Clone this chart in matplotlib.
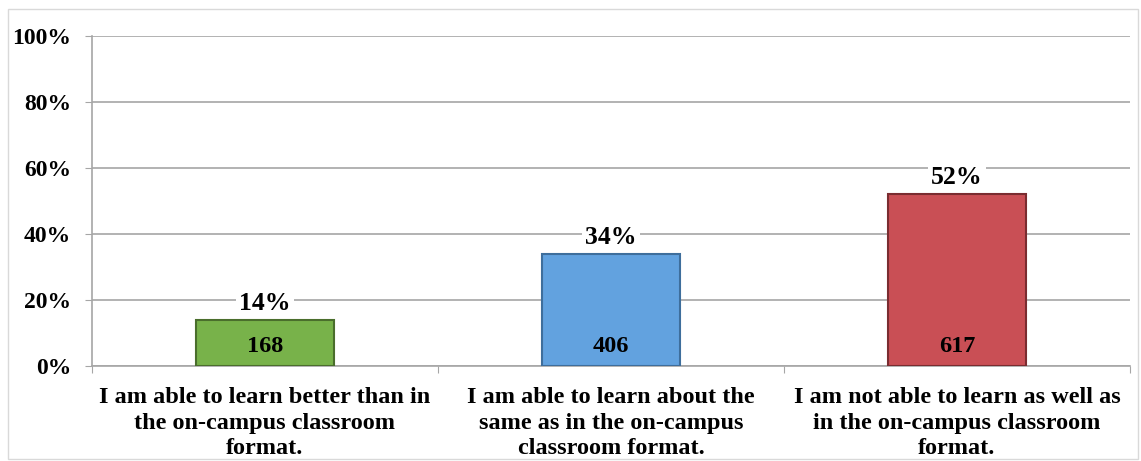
import matplotlib.pyplot as plt
from matplotlib.patches import Rectangle

# data
categories = [
    'I am able to learn better than in\nthe on-campus classroom\nformat.',
    'I am able to learn about the\nsame as in the on-campus\nclassroom format.',
    'I am not able to learn as well as\nin the on-campus classroom\nformat.',
]
percents = [14, 34, 52]
counts = [168, 406, 617]
colors = ['#78B24A', '#62A2DF', '#C94F55']
edges = ['#4A6E2C', '#3E6E9C', '#7A2C30']

plt.rcParams['font.family'] = 'Liberation Serif'
plt.rcParams['font.weight'] = 'bold'

fig = plt.figure(figsize=(11.41, 4.61), dpi=100)
ax = fig.add_axes([92 / 1141, 1 - 366 / 461, 1038 / 1141, 330 / 461])

# outer frame
fig.patches.append(Rectangle((8 / 1141, 2 / 461), 1130 / 1141, 450 / 461,
                             transform=fig.transFigure, fill=False,
                             edgecolor='#D9D9D9', linewidth=1))

x = range(len(categories))
ax.bar(x, percents, width=0.4, color=colors, edgecolor=edges, linewidth=1.5, zorder=3)

for i, (p, c) in enumerate(zip(percents, counts)):
    ax.text(i, p + 1.5, f'{p}%', ha='center', va='bottom', fontsize=18.5,
            fontweight='bold', zorder=4,
            bbox=dict(facecolor='white', edgecolor='none', pad=2))
    ax.text(i, 2.6, str(c), ha='center', va='bottom', fontsize=17.5,
            fontweight='bold', zorder=4)

ax.set_xlim(-0.5, 2.5)
ax.set_ylim(0, 100)
ax.set_yticks(range(0, 101, 20))
ax.set_yticklabels([f'{v}%' for v in range(0, 101, 20)], fontsize=17, fontweight='bold')
ax.yaxis.grid(True, color='#A6A6A6', linewidth=1.2, zorder=0)
ax.set_axisbelow(True)

ax.set_xticks([-0.5, 0.5, 1.5, 2.5])
ax.set_xticklabels([])
ax.tick_params(axis='x', length=5, color='#A6A6A6', direction='out')
ax.tick_params(axis='y', length=5, color='#A6A6A6', pad=10)
for i, lab in enumerate(categories):
    ax.text(i, -6.3, lab, ha='center', va='top', fontsize=17.5, fontweight='bold',
            linespacing=1.3, transform=ax.transData)

for s in ['top', 'right']:
    ax.spines[s].set_visible(False)
ax.spines['left'].set_color('#A6A6A6')
ax.spines['bottom'].set_color('#A6A6A6')
ax.spines['left'].set_linewidth(1.2)
ax.spines['bottom'].set_linewidth(1.2)

plt.savefig('out.png', dpi=100)
plt.close()
